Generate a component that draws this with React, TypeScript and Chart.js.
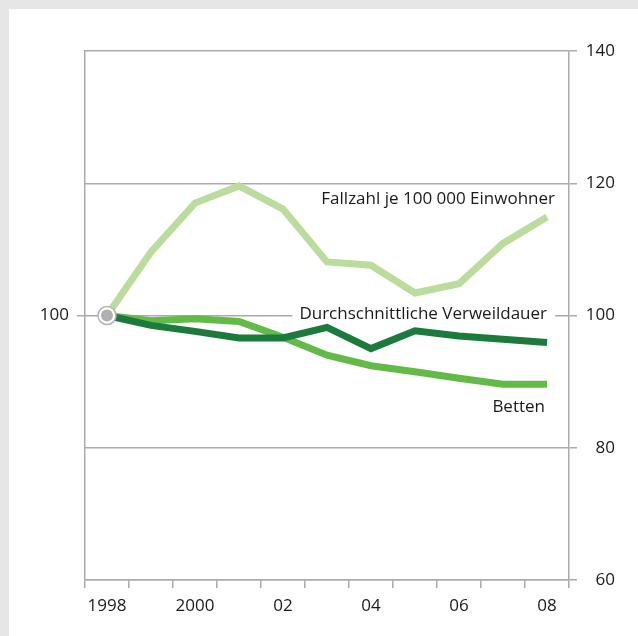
import React, { useEffect, useRef } from "react";
import { Chart, registerables } from "chart.js";

Chart.register(...registerables);

const years = ["1998", "1999", "2000", "2001", "2002", "2003", "2004", "2005", "2006", "2007", "2008"];
const xTickLabels = ["1998", "", "2000", "", "02", "", "04", "", "06", "", "08"];
const fallzahl = [100, 109.6, 117.0, 119.6, 116.1, 108.1, 107.6, 103.4, 104.8, 110.9, 114.9];
const verweildauer = [100, 98.5, 97.6, 96.6, 96.6, 98.2, 95.0, 97.7, 96.9, 96.4, 95.9];
const betten = [100, 99.2, 99.5, 99.1, 96.7, 94.0, 92.4, 91.5, 90.5, 89.6, 89.6];
const seriesNames = ["Fallzahl je 100 000 Einwohner", "Durchschnittliche Verweildauer", "Betten"];
const yMin = 60;
const yMax = 140;
const yStep = 20;
const baseValue = 100;

const FONT_FAMILY = "'Open Sans', sans-serif";
const FONT_SIZE = 17;
const GRAY = "#ababab";
const TEXT = "#1a1a1a";

export default function App() {
  const ref = useRef<HTMLCanvasElement | null>(null);

  useEffect(() => {
    document.documentElement.style.overflow = "hidden";
    document.body.style.margin = "0";
    document.body.style.background = "#e6e6e6";
    const canvas = ref.current;
    if (!canvas) return;

    const annotations = {
      id: "annotations",
      beforeDatasetsDraw(chart: any) {
        const ctx = chart.ctx;
        const x = chart.scales.x;
        const y = chart.scales.y;
        const last = x.getPixelForValue(years.length - 1);
        ctx.save();
        ctx.font = `${FONT_SIZE}px ${FONT_FAMILY}`;
        ctx.textAlign = "right";
        ctx.textBaseline = "alphabetic";
        const t2 = seriesNames[1];
        const w2 = ctx.measureText(t2).width;
        const by2 = y.getPixelForValue(99.47);
        ctx.fillStyle = "#ffffff";
        ctx.fillRect(last - w2 - 7, by2 - 15, w2 + 15, 19);
        ctx.fillStyle = TEXT;
        ctx.fillText(t2, last, by2);
        ctx.fillText(seriesNames[0], last + 8, y.getPixelForValue(116.9));
        ctx.fillText(seriesNames[2], last - 2, y.getPixelForValue(85.4));
        ctx.restore();
      },
      afterDatasetsDraw(chart: any) {
        const ctx = chart.ctx;
        const px = chart.scales.x.getPixelForValue(0);
        const py = chart.scales.y.getPixelForValue(baseValue);
        ctx.save();
        ctx.beginPath();
        ctx.arc(px, py, 9, 0, Math.PI * 2);
        ctx.fillStyle = "#ffffff";
        ctx.fill();
        ctx.lineWidth = 1.5;
        ctx.strokeStyle = "#b4b4b4";
        ctx.stroke();
        ctx.beginPath();
        ctx.arc(px, py, 6, 0, Math.PI * 2);
        ctx.fillStyle = "#b0b0b0";
        ctx.fill();
        ctx.restore();
      },
    };

    const lineBase = {
      borderWidth: 7,
      pointRadius: 0,
      pointHoverRadius: 0,
      tension: 0,
      fill: false,
      borderCapStyle: "butt" as const,
      borderJoinStyle: "miter" as const,
      yAxisID: "y",
    };

    const chart = new Chart(canvas, {
      type: "line",
      data: {
        labels: years,
        datasets: [
          { ...lineBase, label: seriesNames[0], data: fallzahl, borderColor: "#badd9d" },
          { ...lineBase, label: seriesNames[1], data: verweildauer, borderColor: "#1c7b3c" },
          { ...lineBase, label: seriesNames[2], data: betten, borderColor: "#62bb46" },
        ],
      },
      options: {
        responsive: false,
        animation: false,
        events: [],
        layout: { padding: { top: 42, right: 23, bottom: 0, left: 0 } },
        plugins: { legend: { display: false }, tooltip: { enabled: false } },
        scales: {
          x: {
            type: "category",
            offset: true,
            grid: { display: true, drawOnChartArea: false, offset: true, tickLength: 8, color: GRAY, lineWidth: 1.5 },
            border: { display: true, color: GRAY, width: 1.5 },
            ticks: {
              autoSkip: false,
              maxRotation: 0,
              padding: 8,
              color: TEXT,
              font: { family: FONT_FAMILY, size: FONT_SIZE },
              callback: (_v: any, i: number) => xTickLabels[i],
            },
            afterFit: (s: any) => { s.height = 56; },
          },
          yL: {
            type: "linear",
            position: "left",
            min: yMin,
            max: yMax,
            grid: {
              drawOnChartArea: false,
              tickLength: 8,
              lineWidth: 1.5,
              color: (c: any) => (c.tick && c.tick.value === baseValue ? GRAY : "rgba(0,0,0,0)"),
            },
            border: { display: true, color: GRAY, width: 1.5 },
            ticks: {
              stepSize: yStep,
              padding: 8,
              color: TEXT,
              font: { family: FONT_FAMILY, size: FONT_SIZE },
              callback: (v: any) => (v === baseValue ? String(baseValue) : ""),
            },
            afterFit: (s: any) => { s.width = 76; },
          },
          y: {
            type: "linear",
            position: "right",
            min: yMin,
            max: yMax,
            grid: { drawOnChartArea: true, tickLength: 8, color: GRAY, lineWidth: 1.5 },
            border: { display: true, color: GRAY, width: 1.5 },
            ticks: {
              stepSize: yStep,
              padding: 8,
              crossAlign: "far",
              color: TEXT,
              font: { family: FONT_FAMILY, size: FONT_SIZE },
            },
            afterFit: (s: any) => { s.width = 46; },
          },
        },
      },
      plugins: [annotations],
    });
    return () => chart.destroy();
  }, []);

  return (
    <div style={{ paddingTop: 9, paddingLeft: 9 }}>
      <canvas ref={ref} width={629} height={627} style={{ display: "block", background: "#ffffff" }} />
    </div>
  );
}
